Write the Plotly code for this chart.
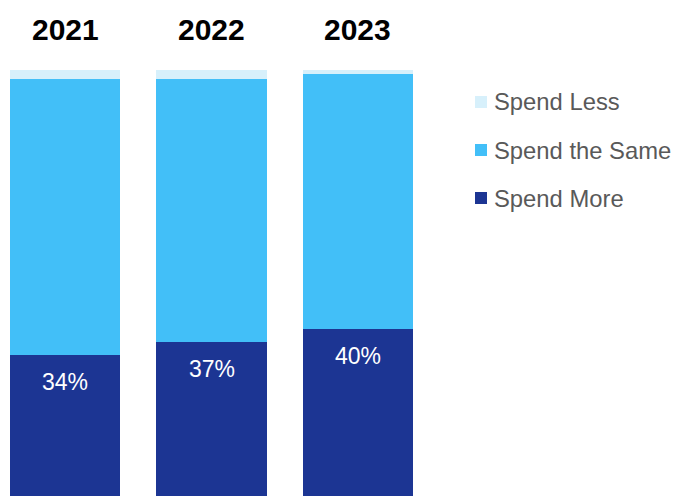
import plotly.graph_objects as go

years = ["2021", "2022", "2023"]
spend_more = [34, 37, 40]
spend_same = [64, 61, 59]
spend_less = [2, 2, 1]

series_names = ["Spend More", "Spend the Same", "Spend Less"]
series_values = [spend_more, spend_same, spend_less]
series_colors = ["#1c3593", "#42bff8", "#d7f0fb"]

W, H = 673, 496
ML, MR, MT, MB = 10, 260, 70, 0
PW, PH = W - ML - MR, H - MT - MB

def px_x(px):
    return (px - ML) / PW

def px_y(py):
    return (H - MB - py) / PH

fig = go.Figure()
for name, vals, col in zip(series_names, series_values, series_colors):
    fig.add_trace(go.Bar(x=years, y=vals, name=name, marker=dict(color=col, line=dict(width=0)),
                         hoverinfo="skip", showlegend=False))

annotations = []
for i, (yr, v) in enumerate(zip(years, spend_more)):
    annotations.append(dict(x=i, y=v, xref="x", yref="y", text=f"{v}%", showarrow=False,
                            yanchor="middle", yshift=-27,
                            font=dict(family="Liberation Sans, Arial", size=23, color="white")))
    annotations.append(dict(x=i, y=1, xref="x", yref="paper", text=f"<b>{yr}</b>", showarrow=False,
                            yanchor="middle", yshift=41,
                            font=dict(family="Liberation Sans, Arial", size=30, color="black")))

# custom legend (top to bottom: Spend Less, Spend the Same, Spend More)
shapes = []
leg_order = list(zip(series_names, series_colors))[::-1]
for k, (name, col) in enumerate(leg_order):
    cy = 102 + 48 * k
    shapes.append(dict(type="rect", xref="paper", yref="paper",
                       x0=px_x(475), x1=px_x(487), y0=px_y(cy + 6), y1=px_y(cy - 6),
                       fillcolor=col, line=dict(width=0)))
    annotations.append(dict(x=px_x(492), y=px_y(cy), xref="paper", yref="paper", text=name,
                            showarrow=False, xanchor="left", yanchor="middle",
                            font=dict(family="Liberation Sans, Arial", size=23.8, color="#595959")))

fig.update_layout(
    width=W, height=H,
    margin=dict(l=ML, r=MR, t=MT, b=MB, pad=0),
    barmode="stack", bargap=0.248,
    plot_bgcolor="white", paper_bgcolor="white",
    xaxis=dict(type="category", range=[-0.376, 2.376], showticklabels=False, showgrid=False,
               zeroline=False, showline=False, ticks=""),
    yaxis=dict(range=[1.4, 100], showticklabels=False, showgrid=False, zeroline=False,
               showline=False, ticks=""),
    annotations=annotations,
    shapes=shapes,
    showlegend=False,
)

fig.write_html("out.html")
